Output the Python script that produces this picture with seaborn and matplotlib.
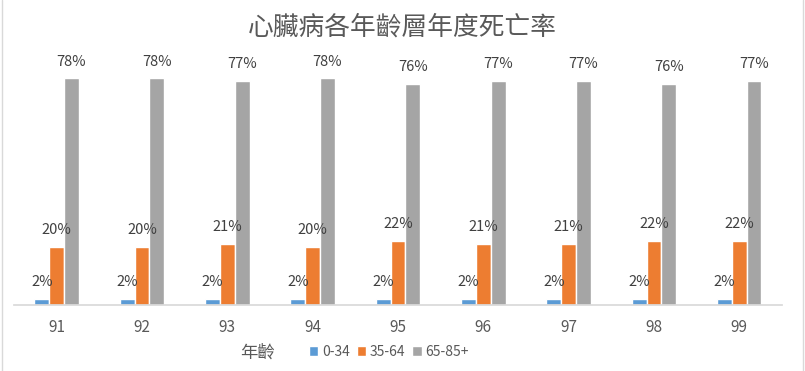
import pandas as pd
import matplotlib.pyplot as plt
import seaborn as sns
from matplotlib.lines import Line2D

# 資料
years = ['91', '92', '93', '94', '95', '96', '97', '98', '99']
age_0_34 = [0.02, 0.02, 0.02, 0.02, 0.02, 0.02, 0.02, 0.02, 0.02]
age_35_64 = [0.20, 0.20, 0.21, 0.20, 0.22, 0.21, 0.21, 0.22, 0.22]
age_65_85 = [0.78, 0.78, 0.77, 0.78, 0.76, 0.77, 0.77, 0.76, 0.77]
groups = ['0-34', '35-64', '65-85+']
colors = ['#5B9BD5', '#ED7D31', '#A5A5A5']

df = pd.DataFrame({
    'year': years * 3,
    'group': [groups[0]] * 9 + [groups[1]] * 9 + [groups[2]] * 9,
    'rate': age_0_34 + age_35_64 + age_65_85,
})

sns.set_theme(style='white')
plt.rcParams['font.family'] = ['Noto Sans CJK TC', 'DejaVu Sans']

fig = plt.figure(figsize=(8.05, 3.71), dpi=100)
ax = fig.add_axes([0.0174, 0.178, 0.954, 0.705])

sns.barplot(data=df, x='year', y='rate', hue='group', palette=colors,
            width=0.52, ax=ax, legend=True, saturation=1)

for cont in ax.containers:
    ax.bar_label(cont, labels=[f'{v * 100:.0f}%' for v in cont.datavalues],
                 padding=7, fontsize=10.5, color='#404040')

ax.set_ylim(0, 0.9)
ax.set_xlim(-0.5, 8.5)
ax.set_yticks([])
ax.set_xlabel('')
ax.set_ylabel('')
for s in ['top', 'right', 'left']:
    ax.spines[s].set_visible(False)
ax.spines['bottom'].set_color('#D9D9D9')
ax.tick_params(axis='x', length=0, pad=10, labelsize=11, labelcolor='#595959')

fig.text(0.5, 0.925, '心臟病各年齡層年度死亡率', ha='center', va='center',
         fontsize=18.5, color='#595959')
fig.text(0.32, 0.05, '年齡', ha='center', va='center', fontsize=12.5, color='#595959')

handles, labels = ax.get_legend_handles_labels()
ax.legend(handles, labels, loc='center left', bbox_to_anchor=(0.368, 0.052),
          bbox_transform=fig.transFigure, ncol=3, frameon=False, fontsize=10,
          handlelength=0.7, handleheight=0.7, handletextpad=0.25,
          columnspacing=0.5, labelcolor='#595959')

# 圖表邊框
fig.add_artist(Line2D([0.003, 0.003], [0, 1], transform=fig.transFigure, color='#D9D9D9', lw=1))
fig.add_artist(Line2D([0.997, 0.997], [0, 1], transform=fig.transFigure, color='#D9D9D9', lw=1))

fig.savefig('out.png', dpi=100)
